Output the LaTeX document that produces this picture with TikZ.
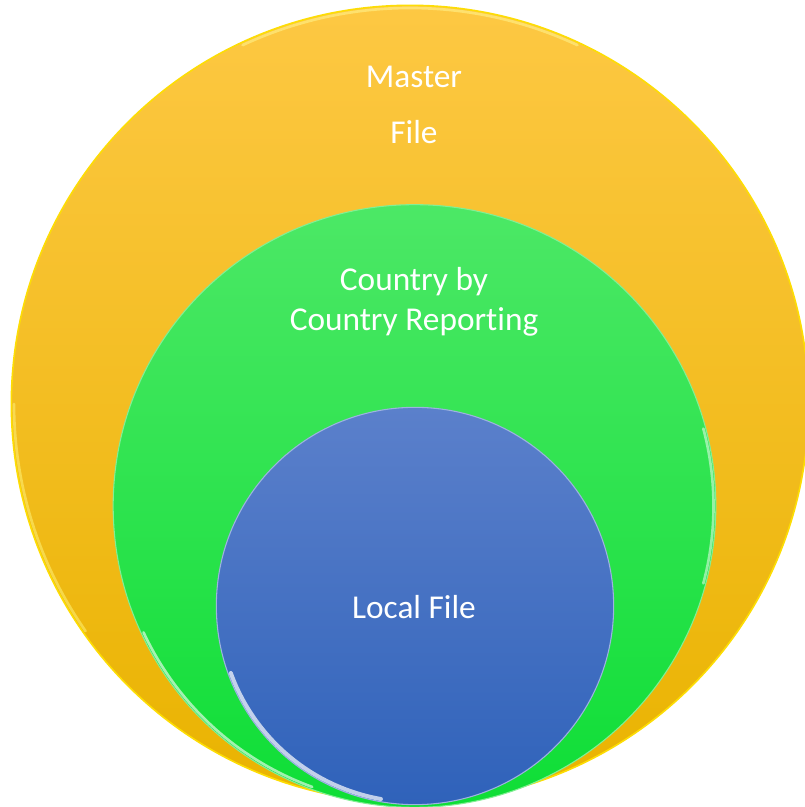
\documentclass[tikz,border=0pt]{standalone}
\usepackage{fontspec}
\setmainfont[Ligatures=NoCommon]{Carlito}
\tikzset{
  disc/.style={circle,inner sep=0pt,outer sep=0pt,shading angle=0},
  lbl/.style={text=white,align=center,font=\fontsize{25}{30}\selectfont},
  gloss/.style={white,line width=2pt,opacity=0.6,line cap=round}
}
\definecolor{ytop}{HTML}{FDC843}
\definecolor{ymid}{HTML}{FFC000}
\definecolor{ybot}{HTML}{E9B300}
\definecolor{gtop}{HTML}{4CE866}
\definecolor{gmid}{HTML}{2AE64B}
\definecolor{gbot}{HTML}{0EDE36}
\definecolor{btop}{HTML}{5B80CB}
\definecolor{bbot}{HTML}{2F62BA}
\begin{document}
\begin{tikzpicture}[x=0.75pt,y=0.75pt]
                %3 cerchi annidati
                \useasboundingbox (0,0) rectangle (805,807);
                \clip (0,0) rectangle (805,807);
                \node[disc,minimum size=598pt,top color=ytop,middle color=ymid,bottom color=ybot,draw=yellow!60!ymid,line width=1.2pt] (master) at (410,403) {};
                \node[disc,minimum size=452pt,top color=gtop,middle color=gmid,bottom color=gbot,draw=gtop!70!white,line width=0.8pt] (cbcr) at (414.5,301) {};
                \node[disc,minimum size=298pt,top color=btop,bottom color=bbot,draw=btop!60!white,line width=0.8pt] (local) at (415,201) {};

                % riflessi
                \draw[gloss,yellow!40!white,opacity=0.5] ([shift={(65:396)}]master.center) arc[start angle=65,end angle=115,radius=396];
                \draw[gloss,yellow!50!white,opacity=0.5] ([shift={(180:396)}]master.center) arc[start angle=180,end angle=215,radius=396];
                \draw[gloss] ([shift={(205:299)}]cbcr.center) arc[start angle=205,end angle=250,radius=299];
                \draw[gloss,opacity=0.5] ([shift={(-15:299)}]cbcr.center) arc[start angle=-15,end angle=15,radius=299];
                \draw[gloss,line width=3pt,opacity=0.7] ([shift={(200:196)}]local.center) arc[start angle=200,end angle=260,radius=196];

                \node[lbl] (mf) at (414,702) {Master\\[12pt]File};
                \node[lbl] (cr) at (414,505) {Country by\\Country Reporting};
                \node[lbl] (lf) at (414,200) {Local File};

            \end{tikzpicture}
\end{document}
